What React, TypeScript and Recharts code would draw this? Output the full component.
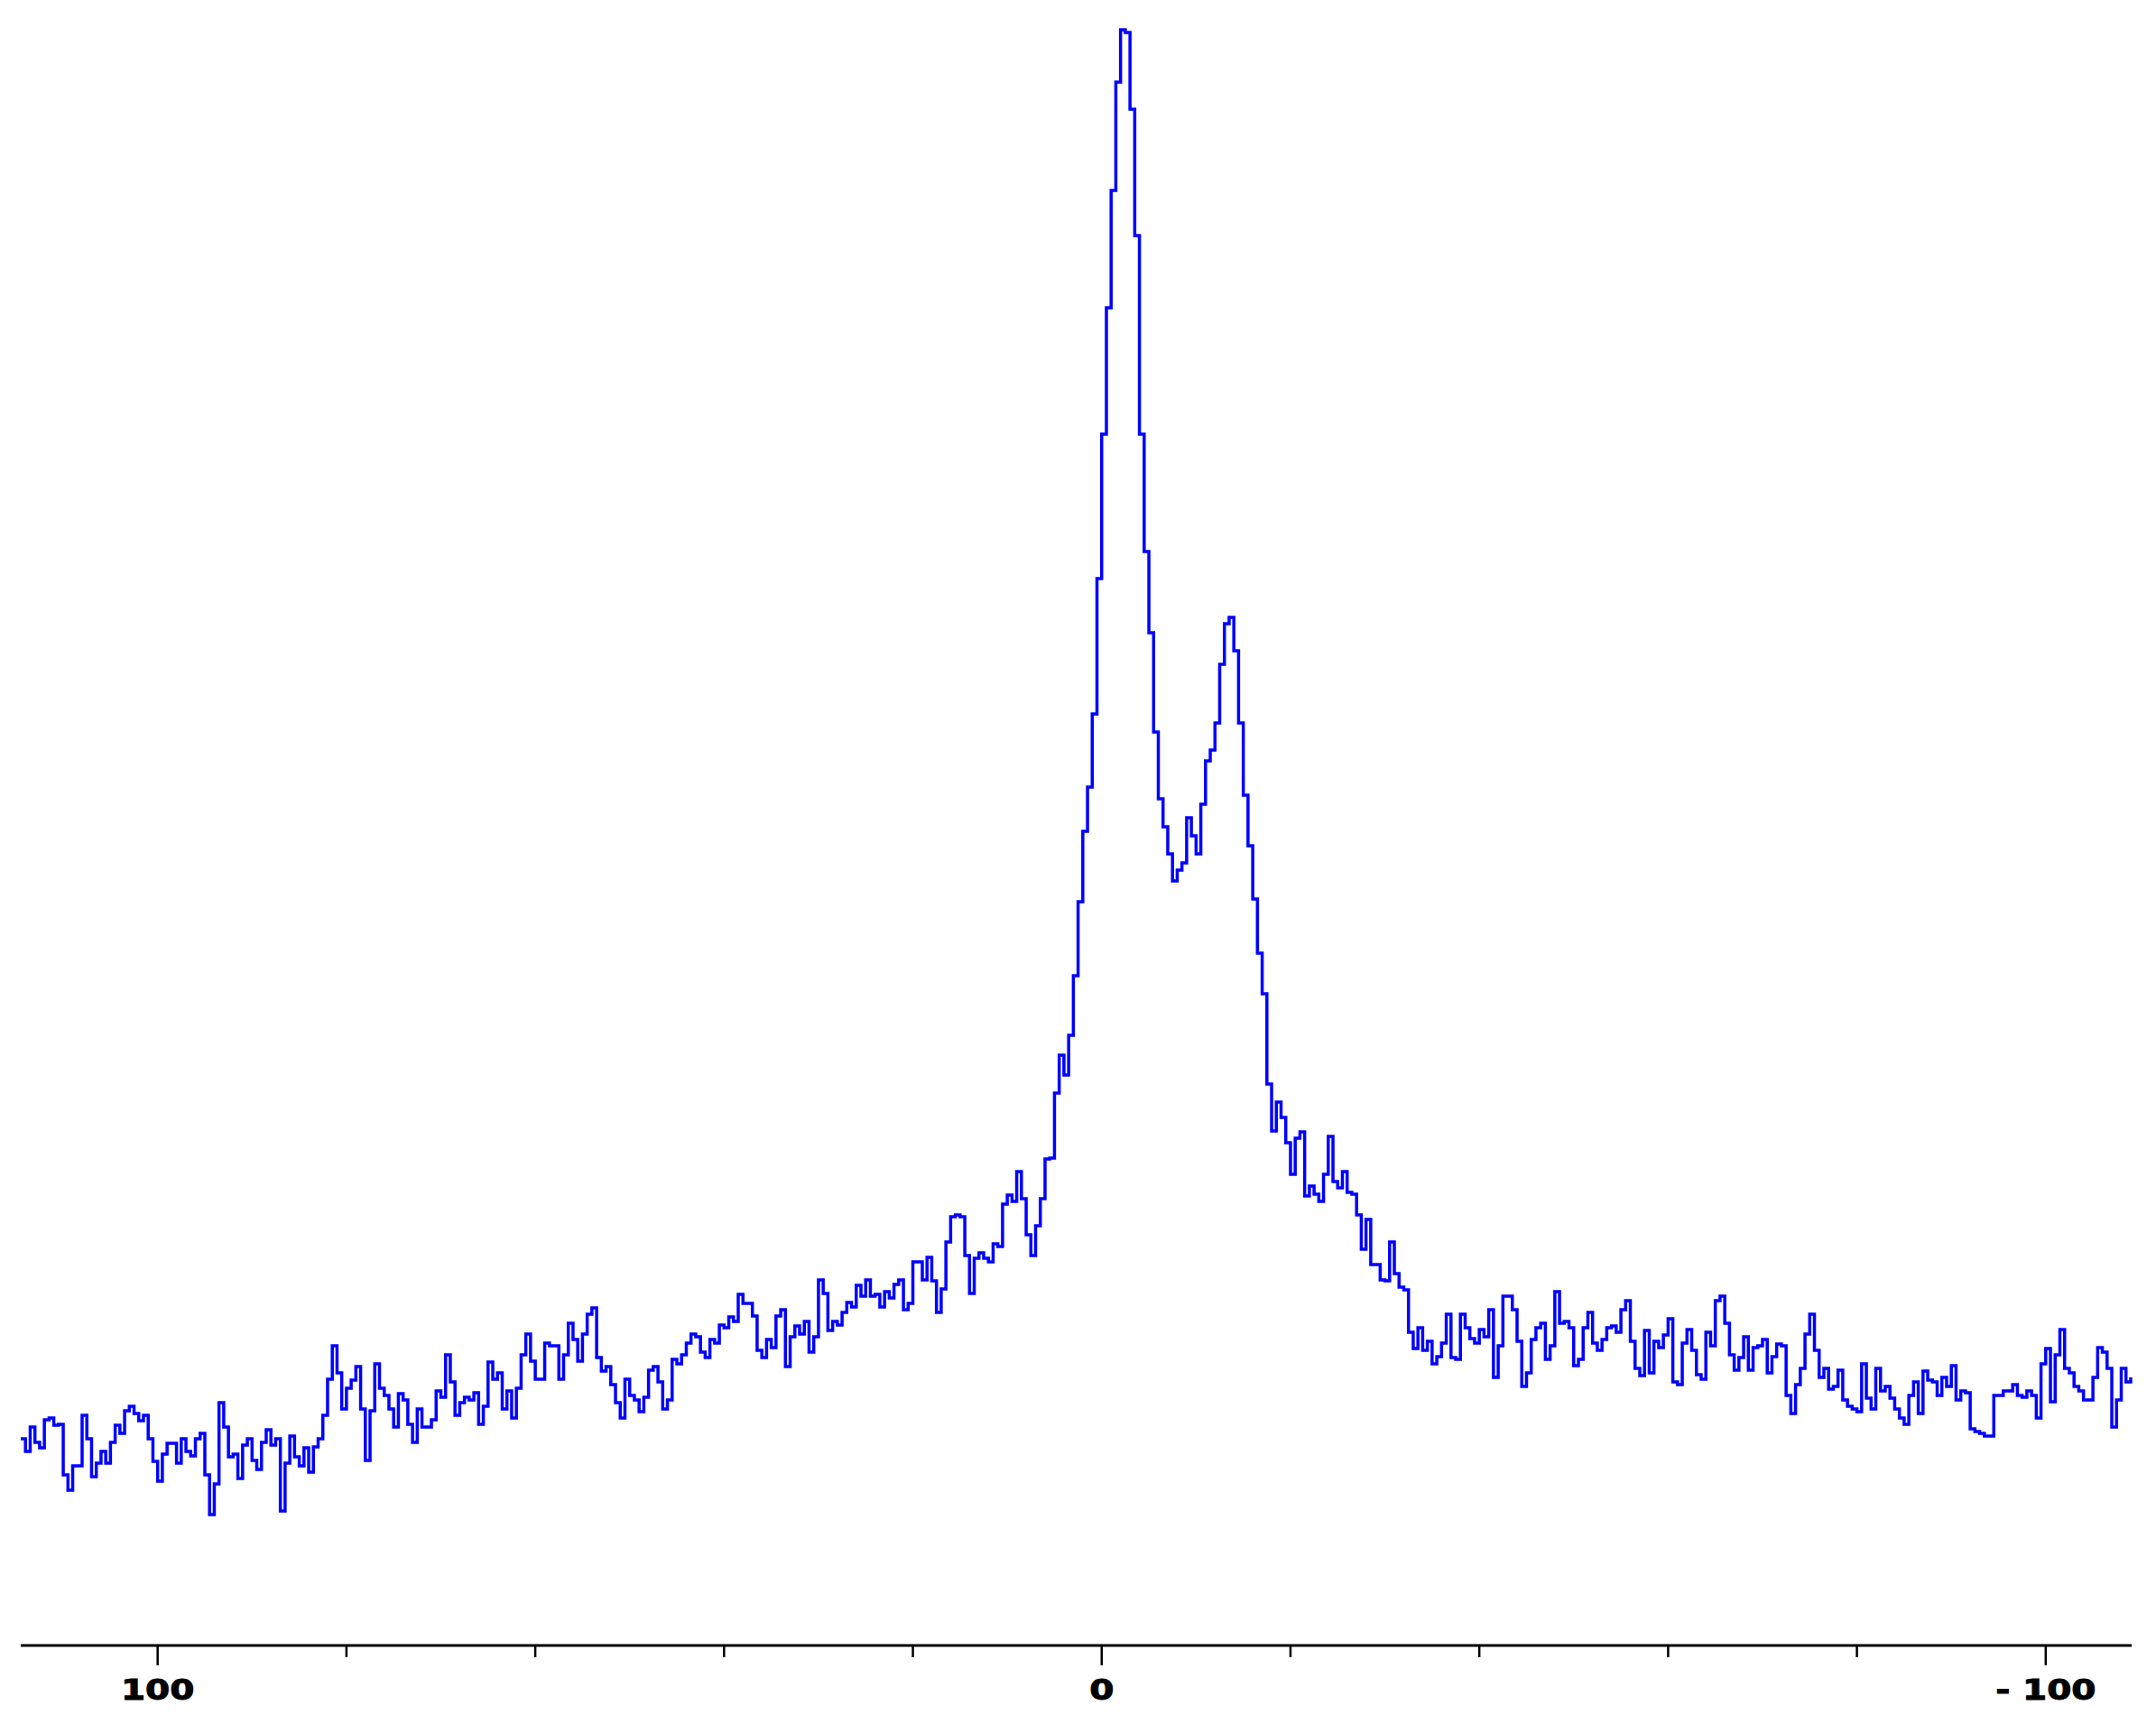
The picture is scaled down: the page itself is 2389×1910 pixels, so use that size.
import { LineChart, Line, XAxis, YAxis } from "recharts";

// Eje de desplazamiento químico (ppm), de izquierda a derecha
const START_PPM = 114.5;
const STEP_PPM = 0.5;

// Línea base izquierda (114.5 → 57.5 ppm)
const leftBaseline = [
  22.9, 21.5, 24.2, 22.5, 21.9, 25.0, 25.2, 24.4, 24.5, 18.9,
  17.2, 19.9, 19.9, 25.5, 22.9, 18.7, 20.2, 21.5, 20.2, 22.5,
  24.4, 23.5, 26.0, 26.5, 25.7, 24.9, 25.5, 22.9, 20.4, 18.2,
  21.2, 22.4, 22.4, 20.2, 22.9, 21.5, 21.0, 22.9, 23.5, 18.9,
  14.5, 17.9, 26.9, 24.2, 20.9, 21.2, 18.5, 22.2, 22.9, 20.5,
  19.5, 22.5, 23.9, 22.2, 22.9, 14.9, 20.2, 23.2, 20.9, 19.9,
  21.9, 19.2, 22.0, 22.9, 25.5, 29.5, 33.2, 30.2, 26.2, 28.5,
  29.4, 30.9, 26.2, 20.5, 26.0, 31.2, 28.5, 27.7, 26.2, 24.2,
  27.9, 27.2, 24.5, 22.5, 26.2, 24.2, 24.2, 25.0, 28.2, 27.5,
  32.2, 29.2, 25.5, 26.9, 27.5, 27.2, 28.0, 24.5, 26.5, 31.4,
  29.5, 30.2, 26.2, 28.2, 25.2, 28.5, 32.2, 34.5, 31.5, 29.5,
  29.5, 33.5, 33.2, 33.2, 29.5,
];

// Subida hacia el pico (57 → 6 ppm)
const risingBaseline = [
  32.2, 35.7, 33.9, 31.5, 34.5, 36.7, 37.4, 31.9, 30.4, 30.9,
  28.9, 26.9, 25.2, 29.5, 27.7, 27.2, 25.9, 27.5, 30.5, 30.9,
  29.2, 26.2, 27.2, 31.7, 31.2, 32.2, 33.5, 34.5, 34.2, 32.5,
  31.9, 33.9, 33.5, 35.5, 35.2, 36.4, 35.9, 38.9, 37.9, 37.9,
  36.5, 32.7, 31.9, 33.9, 33.0, 36.5, 37.2, 30.9, 34.2, 35.4,
  34.5, 35.9, 32.5, 34.2, 40.5, 39.0, 34.9, 35.9, 35.5, 36.9,
  38.0, 37.5, 39.9, 38.7, 40.5, 38.7, 38.9, 37.5, 39.2, 38.5,
  40.0, 40.5, 37.2, 37.9, 42.5, 42.5, 40.5, 43.0, 40.4, 36.9,
  39.5, 44.7, 47.5, 47.7, 47.5, 43.2, 39.0, 42.9, 43.5, 42.9,
  42.5, 44.5, 44.2, 48.9, 49.9, 49.2, 52.5, 49.5, 45.5, 43.2,
  46.5, 49.5, 53.9,
];

// Los dos picos (5.5 → -22.5 ppm)
const mainPeaks = [
  54.0, 61.2, 65.4, 63.2, 67.6, 74.2, 82.4, 90.2, 95.1, 103.2,
  118.2, 134.2, 148.2, 161.2, 173.2, 179.0, 178.7, 170.2, 156.2, 134.2,
  121.2, 112.2, 101.2, 93.8, 90.7, 87.7, 84.7, 85.9, 86.7, 91.7,
  89.7, 87.7, 93.2, 98.0, 99.2, 102.2, 108.7, 113.2, 113.9, 110.2,
  102.2, 94.2, 88.6, 82.7, 76.7, 72.2, 62.2, 57.0, 60.2, 58.5,
  55.7, 52.2, 56.2, 56.9, 49.8, 50.9, 50.0,
];

// Cola derecha (-23 → -51.5 ppm)
const peakTail = [
  49.2, 52.2, 56.4, 51.4, 50.7, 52.5, 50.2, 50.0, 47.7, 43.9,
  47.2, 42.2, 42.2, 40.5, 40.4, 44.7, 41.2, 39.7, 39.4, 34.7,
  32.9, 35.2, 32.7, 33.7, 31.2, 32.0, 33.5, 36.7, 31.9, 31.7,
  36.7, 35.2, 34.0, 33.5, 35.0, 34.2, 37.2, 29.7, 33.2, 38.7,
  38.7, 37.2, 33.7, 28.7, 30.2, 33.9, 35.2, 35.7, 31.7, 33.2,
  39.2, 35.7, 35.9, 35.2, 31.0, 31.7, 35.2, 36.9,
];

// Línea base derecha (-52 → -109 ppm)
const rightBaseline = [
  33.5, 32.7, 33.9, 35.2, 35.4, 34.7, 37.2, 38.2, 33.7, 30.7,
  29.9, 34.9, 30.2, 33.7, 33.0, 34.4, 36.2, 29.2, 28.9, 33.5,
  35.0, 32.7, 30.0, 29.5, 34.7, 33.2, 38.2, 38.7, 35.7, 32.2,
  30.5, 31.9, 34.2, 30.5, 33.0, 33.2, 33.9, 30.2, 32.0, 33.4,
  33.2, 27.7, 25.7, 28.9, 30.7, 34.5, 36.7, 32.7, 29.7, 30.7,
  28.4, 28.7, 30.5, 27.2, 26.5, 26.2, 25.9, 31.2, 27.4, 26.2,
  30.7, 28.2, 28.7, 27.4, 26.2, 25.2, 24.5, 27.7, 29.2, 25.7,
  30.4, 29.4, 29.2, 27.7, 29.7, 28.7, 31.0, 27.2, 28.2, 28.0,
  24.0, 23.7, 23.5, 23.2, 23.2, 27.7, 27.7, 28.2, 28.2, 28.9,
  27.7, 27.5, 28.2, 27.7, 25.2, 31.2, 32.9, 27.0, 32.2, 35.0,
  30.7, 30.2, 28.7, 28.2, 27.2, 27.2, 29.7, 33.0, 32.5, 30.7,
  24.2, 27.2, 30.7, 29.2, 29.7,
];

// Marcas del eje
const tickValues = [100, 80, 60, 40, 20, 0, -20, -40, -60, -80, -100];
const tickLabels: Record<string, string> = { "100": "100", "0": "0", "-100": "- 100" };

const intensity = [...leftBaseline, ...risingBaseline, ...mainPeaks, ...peakTail, ...rightBaseline];

const spectrum = intensity.map((valor, i) => ({
  ppm: START_PPM - i * STEP_PPM,
  valor,
}));

function AxisTick(props: any) {
  const { x, y, payload } = props;
  const label = tickLabels[String(payload.value)];
  return (
    <g>
      <line x1={x} x2={x} y1={y} y2={y + (label ? 22 : 13)} stroke="#000" strokeWidth={2.5} />
      {label && (
        <text
          transform={`translate(${x},${y + 60}) scale(1.22,1)`}
          textAnchor="middle"
          fontFamily="DejaVu Sans"
          fontWeight="bold"
          fontSize={32}
          fill="#000"
          stroke="#000"
          strokeWidth={1}
        >
          {label}
        </text>
      )}
    </g>
  );
}

export default function App() {
  return (
    <div style={{ position: "absolute", left: 0, top: 0, width: 2389, height: 1910, background: "#fff" }}>
      <LineChart
        width={2389}
        height={1910}
        data={spectrum}
        margin={{ top: 0, right: 27, bottom: 0, left: 23 }}
      >
        <XAxis
          dataKey="ppm"
          type="number"
          domain={[-109.1, 114.5]}
          reversed
          ticks={tickValues}
          interval={0}
          height={87}
          tickSize={0}
          tickMargin={0}
          tickLine={false}
          axisLine={{ stroke: "#000", strokeWidth: 3 }}
          tick={<AxisTick />}
        />
        <YAxis hide type="number" domain={[0, 182.3]} />
        <Line
          type="stepAfter"
          dataKey="valor"
          stroke="#0000ff"
          strokeWidth={3.5}
          dot={false}
          activeDot={false}
          isAnimationActive={false}
        />
      </LineChart>
    </div>
  );
}
